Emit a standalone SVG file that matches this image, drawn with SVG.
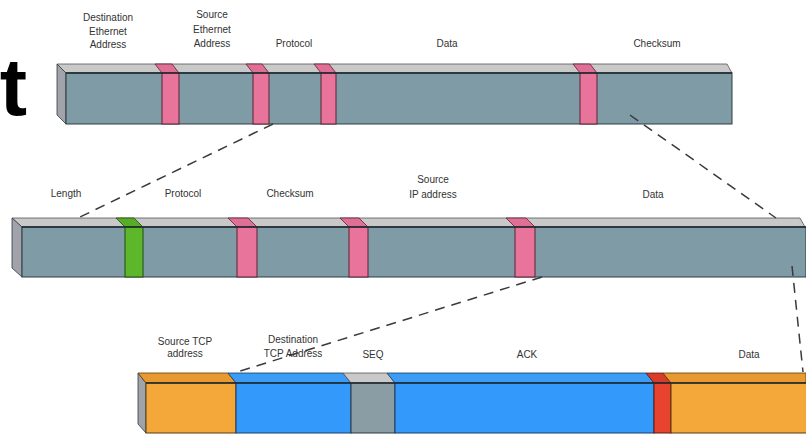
<svg xmlns="http://www.w3.org/2000/svg" width="806" height="435" viewBox="0 0 806 435">
<style>
.lbl{font-family:"Liberation Sans",Arial,sans-serif;font-size:10px;fill:#333;text-anchor:middle}
.front{fill:#7f9ba5;stroke:#2e3b40;stroke-width:1}
.top{fill:#c9c9c9;stroke:#555;stroke-width:0.8}
.side{fill:#a2a2aa;stroke:#2e3b40;stroke-width:0.8}
.pink{fill:#e8749c;stroke:#5a2233;stroke-width:1}
.pinkt{fill:#e06f96;stroke:#5a2233;stroke-width:0.8}
.green{fill:#5cb82a;stroke:#234a10;stroke-width:1}
.greent{fill:#58ad28;stroke:#234a10;stroke-width:0.8}
.orange{fill:#f4a83a;stroke:#5a3a10;stroke-width:1}
.oranget{fill:#e89a30;stroke:#5a3a10;stroke-width:0.8}
.blue{fill:#3399fb;stroke:#1a3a66;stroke-width:1}
.bluet{fill:#3a9cf5;stroke:#1a3a66;stroke-width:0.8}
.red{fill:#e8432f;stroke:#5a1a10;stroke-width:1}
.redt{fill:#d93b2a;stroke:#5a1a10;stroke-width:0.8}
.seq{fill:#8a9ca4;stroke:#2e3b40;stroke-width:1}
.seqt{fill:#c9c9c9;stroke:#555;stroke-width:0.8}
.edge{stroke:#1e2a30;stroke-width:1.6}
.dash{fill:none;stroke:#3a3a3a;stroke-width:1.5;stroke-dasharray:10 7}
</style>

<text x="27" y="115" font-family="Liberation Sans,Arial,sans-serif" font-weight="bold" font-size="82" text-anchor="end" fill="#000">t</text>

<g id="ethernet-frame">
  <polygon class="top" points="57,64 727,64 732,73 66,73"/>
  <polygon class="side" points="57,64 66,73 66,124 57,115"/>
  <rect class="front" x="66" y="73" width="666" height="51"/>
  <g id="eth-stripes">
    <polygon class="pinkt" points="155,64 172,64 179,73 162,73"/>
    <rect class="pink" x="162" y="73" width="17" height="51"/>
    <polygon class="pinkt" points="246,64 262,64 269,73 253,73"/>
    <rect class="pink" x="253" y="73" width="16" height="51"/>
    <polygon class="pinkt" points="314,64 329,64 336,73 321,73"/>
    <rect class="pink" x="321" y="73" width="15" height="51"/>
    <polygon class="pinkt" points="573,64 590,64 597,73 580,73"/>
    <rect class="pink" x="580" y="73" width="17" height="51"/>
  </g>
  <line class="edge" x1="66" y1="73" x2="732" y2="73"/>
  <g id="eth-labels">
    <text class="lbl" x="108" y="21">Destination</text>
    <text class="lbl" x="108" y="35">Ethernet</text>
    <text class="lbl" x="108" y="48">Address</text>
    <text class="lbl" x="212" y="18">Source</text>
    <text class="lbl" x="212" y="33">Ethernet</text>
    <text class="lbl" x="212" y="47">Address</text>
    <text class="lbl" x="294" y="47">Protocol</text>
    <text class="lbl" x="447" y="47">Data</text>
    <text class="lbl" x="657" y="47">Checksum</text>
  </g>
</g>

<g id="ip-packet">
  <polygon class="top" points="12,218 800,218 805,227 22,227"/>
  <polygon class="side" points="12,218 22,227 22,277 12,268"/>
  <rect class="front" x="22" y="227" width="784" height="50"/>
  <g id="ip-stripes">
    <polygon class="greent" points="116,218 134,218 143,227 125,227"/>
    <rect class="green" x="125" y="227" width="18" height="50"/>
    <polygon class="pinkt" points="228,218 248,218 257,227 237,227"/>
    <rect class="pink" x="237" y="227" width="20" height="50"/>
    <polygon class="pinkt" points="340,218 359,218 368,227 349,227"/>
    <rect class="pink" x="349" y="227" width="19" height="50"/>
    <polygon class="pinkt" points="506,218 526,218 535,227 515,227"/>
    <rect class="pink" x="515" y="227" width="20" height="50"/>
  </g>
  <line class="edge" x1="22" y1="227" x2="806" y2="227"/>
  <g id="ip-labels">
    <text class="lbl" x="66" y="197">Length</text>
    <text class="lbl" x="183" y="197">Protocol</text>
    <text class="lbl" x="290" y="197">Checksum</text>
    <text class="lbl" x="433" y="183">Source</text>
    <text class="lbl" x="433" y="198">IP address</text>
    <text class="lbl" x="653" y="198">Data</text>
  </g>
</g>

<g id="tcp-segment">
  <polygon class="side" points="138,373 146,383 146,433 138,424"/>
  <g id="tcp-src">
    <polygon class="oranget" points="138,373 228,373 236,383 146,383"/>
    <rect class="orange" x="146" y="383" width="90" height="50"/>
  </g>
  <g id="tcp-dst">
    <polygon class="bluet" points="228,373 343,373 351,383 236,383"/>
    <rect class="blue" x="236" y="383" width="115" height="50"/>
  </g>
  <g id="tcp-seq">
    <polygon class="seqt" points="343,373 387,373 395,383 351,383"/>
    <rect class="seq" x="351" y="383" width="44" height="50"/>
  </g>
  <g id="tcp-ack">
    <polygon class="bluet" points="387,373 646,373 654,383 395,383"/>
    <rect class="blue" x="395" y="383" width="259" height="50"/>
  </g>
  <g id="tcp-flag">
    <polygon class="redt" points="646,373 663,373 671,383 654,383"/>
    <rect class="red" x="654" y="383" width="17" height="50"/>
  </g>
  <g id="tcp-data">
    <polygon class="oranget" points="663,373 806,373 806,383 671,383"/>
    <rect class="orange" x="671" y="383" width="136" height="50"/>
  </g>
  <line class="edge" x1="146" y1="383" x2="806" y2="383"/>
  <g id="tcp-labels">
    <text class="lbl" x="185" y="345">Source TCP</text>
    <text class="lbl" x="185" y="357">address</text>
    <text class="lbl" x="293" y="343">Destination</text>
    <text class="lbl" x="293" y="357">TCP Address</text>
    <text class="lbl" x="373" y="358">SEQ</text>
    <text class="lbl" x="527" y="358">ACK</text>
    <text class="lbl" x="749" y="358">Data</text>
  </g>
</g>

<g id="connectors">
  <line class="dash" x1="273" y1="124" x2="80" y2="217"/>
  <line class="dash" x1="630" y1="115" x2="776" y2="218"/>
  <line class="dash" x1="542" y1="277" x2="237" y2="372"/>
  <line class="dash" x1="792" y1="266" x2="803" y2="372"/>
</g>
</svg>
